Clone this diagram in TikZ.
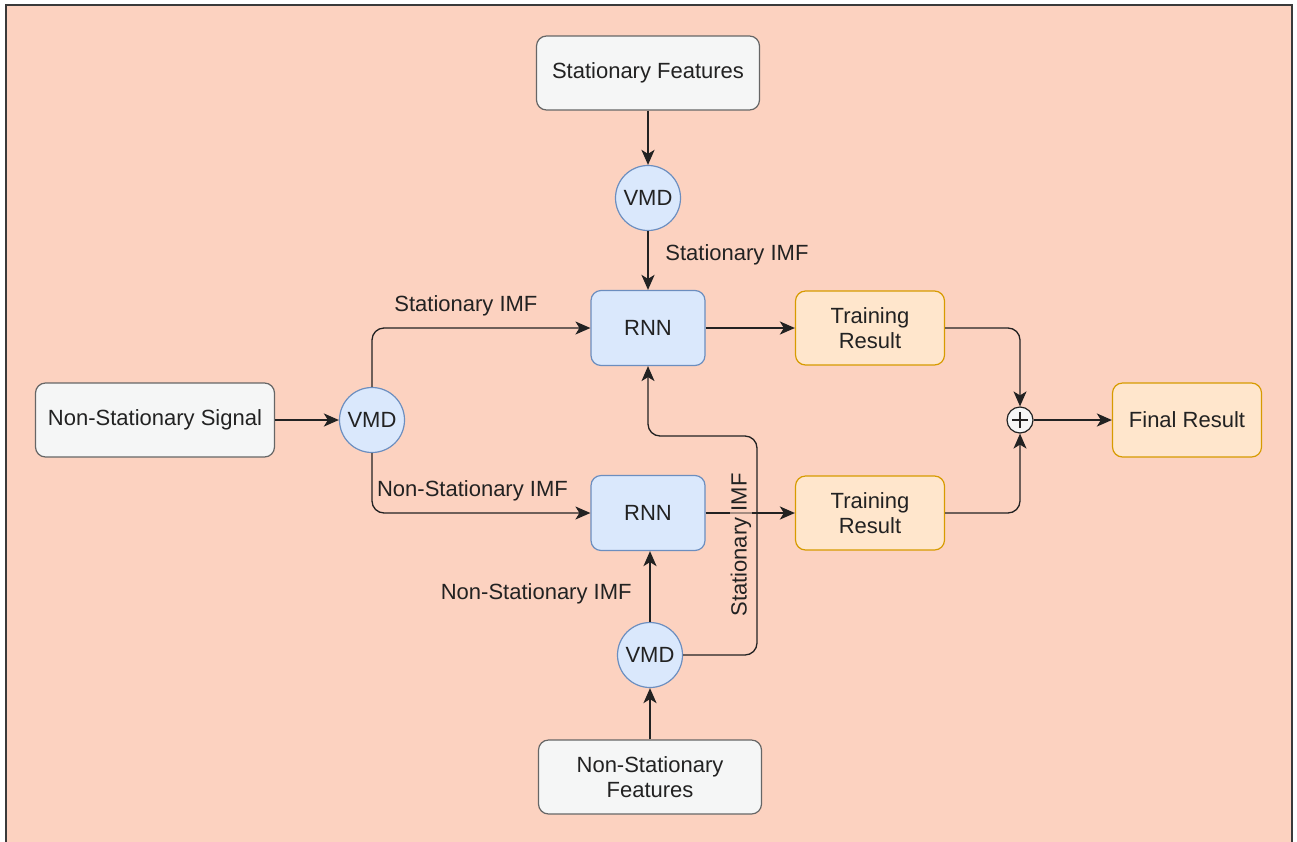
\documentclass[tikz,border=0pt]{standalone}
\usepackage{fontspec}
\setmainfont{Liberation Sans}
\usetikzlibrary{arrows.meta,positioning,calc}
\definecolor{canvas}{HTML}{FCD2C0}
\definecolor{framegray}{HTML}{3A3A3A}
\definecolor{boxgray}{HTML}{666666}
\definecolor{boxfill}{HTML}{F5F6F6}
\definecolor{bluefill}{HTML}{DAE8FC}
\definecolor{bluedraw}{HTML}{6C8EBF}
\definecolor{orangefill}{HTML}{FFE6CC}
\definecolor{orangedraw}{HTML}{D79B00}
\definecolor{inkdark}{HTML}{222222}
\tikzset{
    feature/.style={draw=boxgray, fill=boxfill, rounded corners=10pt, minimum width=223pt, minimum height=74pt, align=center, line width=1.2pt},
    vmd/.style={draw=bluedraw, fill=bluefill, circle, minimum size=65pt, inner sep=0pt, line width=1.2pt},
    rnn/.style={draw=bluedraw, fill=bluefill, rounded corners=10pt, minimum width=114pt, minimum height=75pt, line width=1.2pt},
    result/.style={draw=orangedraw, fill=orangefill, rounded corners=10pt, minimum width=149pt, minimum height=74pt, align=center, line width=1.2pt},
    sumnode/.style={draw=inkdark, fill=boxfill, circle, minimum size=26pt, inner sep=0pt, line width=1.2pt,
        path picture={\draw[line width=2pt, inkdark] ([yshift=-8pt]path picture bounding box.center) -- ([yshift=8pt]path picture bounding box.center)
            ([xshift=-8pt]path picture bounding box.center) -- ([xshift=8pt]path picture bounding box.center);}},
    flow/.style={-{Stealth[length=15pt, width=13pt, inset=4pt]}, line width=2.2pt, draw=inkdark},
    link/.style={-{Stealth[length=15pt, width=13pt, inset=4pt]}, line width=1.3pt, draw=inkdark, rounded corners=12pt},
    imf/.style={text=inkdark}
}

\begin{document}
\begin{tikzpicture}[x=1pt, y=-1pt, font=\fontsize{22}{25}\selectfont, text=inkdark]
    \useasboundingbox (0,0) rectangle (1297,841);
    \fill[canvas] (6,5) rectangle (1292,860);
    \draw[framegray, line width=1.6pt] (6,860) -- (6,5) -- (1292,5) -- (1292,860);

    \node[feature] (statfeat) at (648,73) {Stationary Features};
    \node[vmd] (vmdtop) at (648,198) {VMD};
    \node[rnn] (rnntop) at (648,328) {RNN};
    \node[result] (trtop) at (870,328) {Training\\Result};
    \node[feature, minimum width=239pt] (signal) at (155,420) {Non-Stationary Signal};
    \node[vmd] (vmdleft) at (372,420) {VMD};
    \node[rnn] (rnnbot) at (648,513) {RNN};
    \node[result] (trbot) at (870,513) {Training\\Result};
    \node[sumnode] (sum) at (1020,420) {};
    \node[result] (final) at (1187,420) {Final Result};
    \node[vmd] (vmdbot) at (650,655) {VMD};
    \node[feature] (nsfeat) at (650,777) {Non-Stationary\\Features};

    \draw[flow] (statfeat) -- (vmdtop);
    \draw[flow] (vmdtop) -- node[imf, pos=0.33, right=13pt, yshift=-4pt] {Stationary IMF} (rnntop);
    \draw[flow] (signal) -- (vmdleft);
    \draw[link] (vmdleft.north) |- node[imf, pos=0.715, above=8pt] {Stationary IMF} (rnntop.west);
    \draw[link] (vmdleft.south) |- node[imf, pos=0.73, above=8pt] {Non-Stationary IMF} (rnnbot.west);
    \draw[flow] (rnntop) -- (trtop);
    \draw[flow] (rnnbot) -- (trbot);
    \draw[link] (trtop.east) -| (sum.north);
    \draw[link] (trbot.east) -| (sum.south);
    \draw[flow] (sum) -- (final);
    \draw[flow] (nsfeat) -- (vmdbot);
    \draw[flow] (vmdbot.north) -- node[imf, pos=0.45, left=14pt, yshift=-4pt] {Non-Stationary IMF} (vmdbot.north |- rnnbot.south);
    \draw[link] (vmdbot.east) -| (757,436) -| (rnntop.south);
    \node[imf, rotate=90, fill=canvas, fill opacity=0.6, text opacity=1, inner sep=1pt] (statlabel) at (741,545) {Stationary IMF};
\end{tikzpicture}
\end{document}
